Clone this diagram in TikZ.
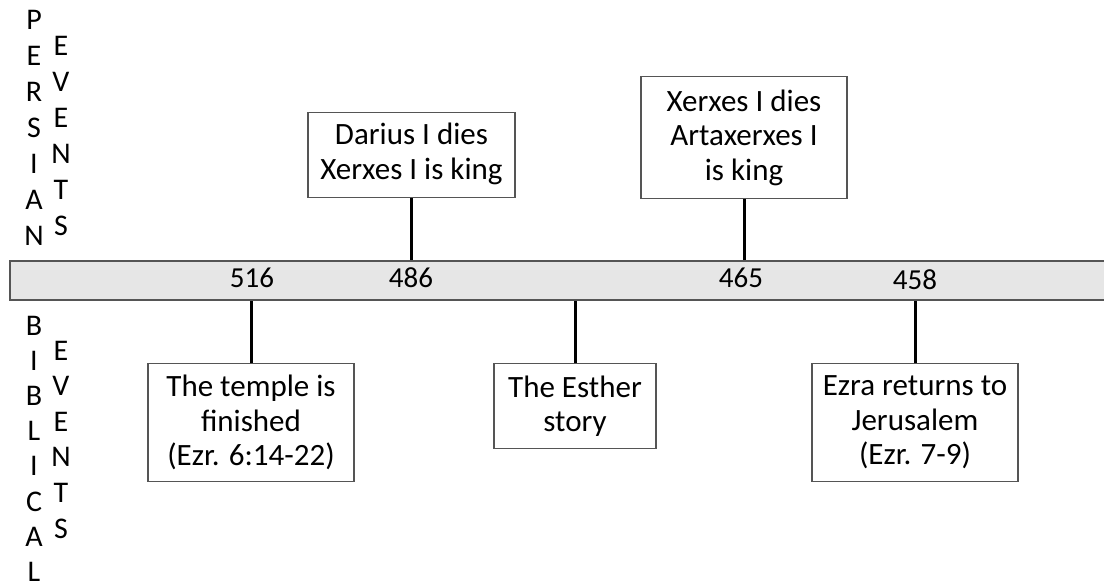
\documentclass[tikz,border=0pt]{standalone}
\usepackage{fontspec}
\setmainfont{Carlito}
\definecolor{barfill}{HTML}{E6E6E6}
\definecolor{edge}{HTML}{555555}
\begin{document}
\begin{tikzpicture}[x=1pt,y=-1pt,
  evbox/.style={draw=edge, line width=1.3pt, fill=white, align=center,
    font=\fontsize{31}{34.5}\selectfont, inner sep=0pt, anchor=north},
  numlbl/.style={font=\fontsize{29}{34}\selectfont, inner sep=0pt, anchor=base},
  conn/.style={line width=3pt, black},
  letter/.style={font=\fontsize{30}{34}\selectfont, inner sep=0pt, anchor=base}]
\useasboundingbox (0,0) rectangle (1104,588);
\clip (0,0) rectangle (1104,588);
% timeline bar
\node[draw=edge, line width=1.5pt, fill=barfill, minimum width=1100pt,
  minimum height=39pt, inner sep=0pt] (bar) at (560,280.5) {};
% year labels
\node[numlbl] (y516) at (252,288) {516};
\node[numlbl] (y486) at (411,288) {486};
\node[numlbl] (y465) at (741,288) {465};
\node[numlbl] (y458) at (915,290) {458};
% Persian events (above)
\node[evbox, minimum width=207pt, minimum height=85pt, text depth=8pt] (darius) at (411.5,112)
  {Darius I dies\\Xerxes I is king};
\node[evbox, minimum width=206pt, minimum height=122pt] (xerxes) at (744,76)
  {Xerxes I dies\\Artaxerxes I\\is king};
% Biblical events (below)
\node[evbox, minimum width=206pt, minimum height=118pt] (temple) at (251,363)
  {The temple is\\finished\\(Ezr. 6:14-22)};
\node[evbox, minimum width=162pt, minimum height=85pt] (esther) at (575,363)
  {The Esther\\story};
\node[evbox, minimum width=206pt, minimum height=118pt] (ezra) at (915,363)
  {Ezra returns to\\Jerusalem\\(Ezr. 7-9)};
% connectors
\draw[conn] (darius.south) -- (darius.south |- bar.north);
\draw[conn] (xerxes.south) -- (xerxes.south |- bar.north);
\draw[conn] (temple.north) -- (temple.north |- bar.south);
\draw[conn] (esther.north) -- (esther.north |- bar.south);
\draw[conn] (ezra.north) -- (ezra.north |- bar.south);
% side labels
\foreach \l [count=\i from 0] in {P,E,R,S,I,A,N}
  \node[letter] (per\i) at (34,30+36*\i) {\l};
\foreach \l [count=\i from 0] in {E,V,E,N,T,S}
  \node[letter] (pev\i) at (61,56+36*\i) {\l};
\foreach \l [count=\i from 0] in {B,I,B,L,I,C,A,L}
  \node[letter] (bib\i) at (34,335+35.2*\i) {\l};
\foreach \l [count=\i from 0] in {E,V,E,N,T,S}
  \node[letter] (bev\i) at (61,360+35.6*\i) {\l};
\end{tikzpicture}
\end{document}
